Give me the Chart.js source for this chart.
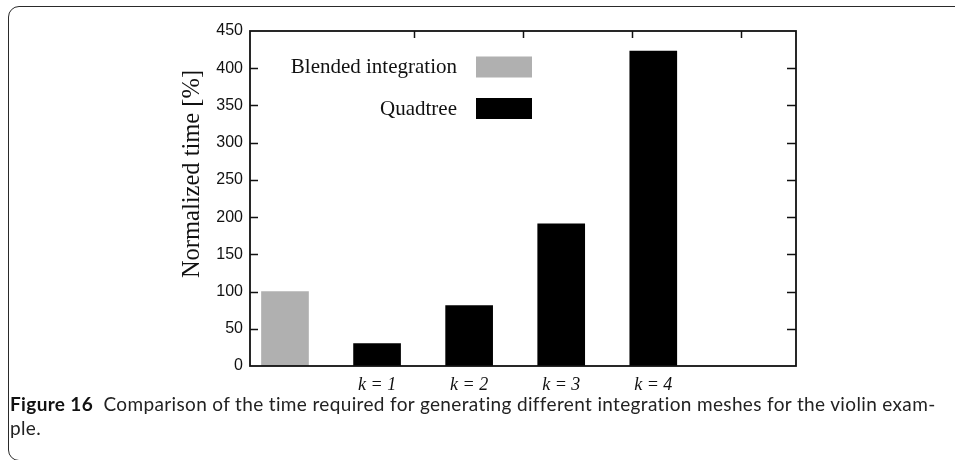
<!DOCTYPE html>
<html>
<head>
<meta charset="utf-8">
<script src="https://cdn.jsdelivr.net/npm/chart.js@4.4.1/dist/chart.umd.min.js"></script>
<style>
  body { margin: 0; background: #fff; }
  #page { position: relative; width: 955px; height: 460px; overflow: hidden; }
  #frame { position: absolute; left: 8px; top: 6px; width: 1000px; height: 455px;
           border: 1.5px solid #2a2a2a; border-radius: 11px; box-sizing: border-box; }
  #barChart { position: absolute; left: 0; top: 0; }
  #caption { position: absolute; left: 10px; top: 392px; font-family: Lato, "Noto Sans", sans-serif;
             font-size: 19px; letter-spacing: 0.35px; line-height: 24px; color: #222; white-space: nowrap; }
  #caption b { font-weight: 700; color: #111; }
</style>
</head>
<body>
<div id="page">
  <div id="frame"></div>
  <canvas id="barChart" width="955" height="395"></canvas>
  <div id="caption"><b>Figure 16</b>&nbsp; Comparison of the time required for generating different integration meshes for the violin exam-<br>ple.</div>
</div>
<script>
var categories = ["", "k = 1", "k = 2", "k = 3", "k = 4"];
var blendedValues = [100, null, null, null, null];
var quadtreeValues = [null, 30, 81, 191, 423];
var topTickPositions = [1.5, 2.5, 3.5, 4.5];

function toPoints(values) {
    return values
        .map(function (v, i) { return { x: i, y: v }; })
        .filter(function (p) { return p.y !== null; });
}

// frame round the plot area plus the little inward ticks
var framePlugin = {
    id: "frame",
    afterDatasetsDraw: function (chart) {
        var ctx = chart.ctx;
        var a = chart.chartArea;
        ctx.save();
        ctx.strokeStyle = "#111";
        ctx.lineWidth = 1.8;
        ctx.strokeRect(a.left, a.top, a.right - a.left, a.bottom - a.top);
        ctx.lineWidth = 1.5;
        chart.scales.y.ticks.forEach(function (t) {
            if (t.value <= 0 || t.value >= 450) return;
            var py = Math.round(chart.scales.y.getPixelForValue(t.value)) + 0.5;
            ctx.beginPath();
            ctx.moveTo(a.left, py); ctx.lineTo(a.left + 8, py);
            ctx.moveTo(a.right - 9, py); ctx.lineTo(a.right, py);
            ctx.stroke();
        });
        chart.scales.x2.ticks.forEach(function (t) {
            var px = Math.round(chart.scales.x2.getPixelForValue(t.value)) + 0.5;
            ctx.beginPath();
            ctx.moveTo(px, a.top); ctx.lineTo(px, a.top + 7);
            ctx.stroke();
        });
        ctx.restore();
    }
};

// legend inside the plot: text on the left, box on the right
var legendPlugin = {
    id: "insideLegend",
    afterDraw: function (chart) {
        var ctx = chart.ctx;
        var a = chart.chartArea;
        ctx.save();
        ctx.font = '21px "Liberation Serif", serif';
        ctx.textAlign = "right";
        ctx.textBaseline = "middle";
        chart.data.datasets.forEach(function (ds, i) {
            var cy = a.top + 35.5 + i * 41.5;
            ctx.fillStyle = "#111";
            ctx.fillText(ds.label, a.left + 207, cy + 1);
            ctx.fillStyle = ds.backgroundColor;
            ctx.fillRect(a.left + 226, cy - 10, 56, 21);
        });
        ctx.restore();
    }
};

var chart = new Chart("barChart", {
    type: "bar",
    data: {
        datasets: [
            {
                label: "Blended integration",
                backgroundColor: "#b0b0b0",
                data: toPoints(blendedValues),
            },
            {
                label: "Quadtree",
                backgroundColor: "#000000",
                data: toPoints(quadtreeValues),
            },
        ],
    },
    options: {
        responsive: false,
        animation: false,
        layout: { padding: { left: 176, top: 31, right: 159, bottom: 0 } },
        datasets: { bar: { barThickness: 47, grouped: false, borderWidth: 0 } },
        scales: {
            x: {
                type: "linear",
                position: "bottom",
                offset: false,
                min: -0.38,
                max: 5.55,
                grid: { display: false, drawTicks: false, offset: false },
                border: { display: false },
                afterBuildTicks: function (scale) {
                    scale.ticks = categories
                        .map(function (c, i) { return { value: i }; })
                        .filter(function (t) { return categories[t.value] !== ""; });
                },
                afterFit: function (scale) { scale.height = 29; },
                ticks: {
                    padding: 8,
                    color: "#111",
                    font: { family: '"Liberation Serif", serif', size: 18, style: "italic" },
                    callback: function (value) { return categories[value]; },
                },
            },
            x2: {
                type: "linear",
                position: "top",
                offset: false,
                min: 0,
                max: 5,
                grid: { display: false, drawTicks: false },
                border: { display: false },
                ticks: { display: false },
                afterBuildTicks: function (scale) {
                    scale.ticks = topTickPositions.map(function (v) { return { value: v }; });
                },
                afterFit: function (scale) { scale.height = 0; },
            },
            y: {
                min: 0,
                max: 450,
                grid: { display: false, drawTicks: false },
                border: { display: false },
                afterFit: function (scale) { scale.width = 74; },
                ticks: {
                    stepSize: 50,
                    padding: 7,
                    color: "#111",
                    font: { family: '"Liberation Sans", Arial, sans-serif', size: 16 },
                },
                title: {
                    display: true,
                    text: "        Normalized time [%]",
                    color: "#111",
                    padding: { top: 2, bottom: 0 },
                    font: { family: '"Liberation Serif", serif', size: 24.5, weight: "normal" },
                },
            },
        },
        plugins: {
            legend: { display: false },
            tooltip: { enabled: false },
        },
    },
    plugins: [framePlugin, legendPlugin],
});
</script>
</body>
</html>
